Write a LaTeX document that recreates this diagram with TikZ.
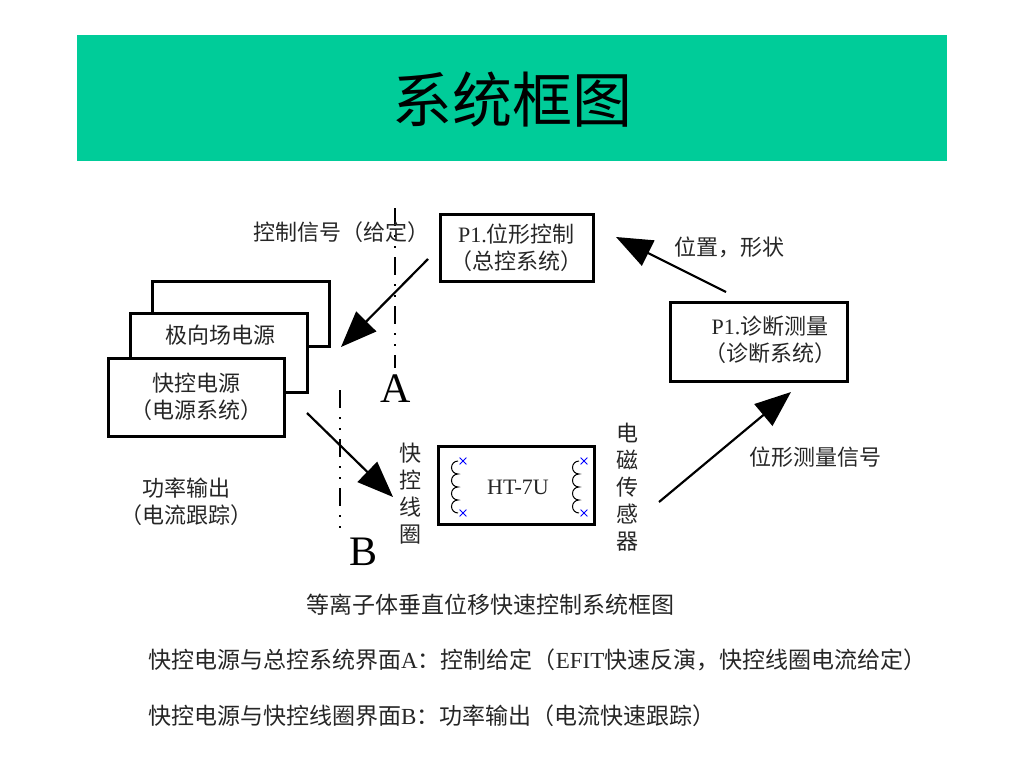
\documentclass[tikz,border=0pt]{standalone}
\usepackage{fontspec}
\setmainfont{Noto Sans CJK SC}
\newfontfamily\lat{Liberation Serif}
\usetikzlibrary{arrows.meta,shapes.misc}
\definecolor{headgreen}{RGB}{0,204,153}
\begin{document}
\begin{tikzpicture}[x=1pt,y=-1pt,
  box/.style={draw,line width=3pt,fill=white,inner sep=0pt},
  arr/.style={line width=2.2pt,-{Triangle[length=36pt,width=28pt]}},
  cut/.style={line width=2pt,dash pattern=on 18pt off 9pt on 2pt off 9pt on 2pt off 9pt},
  xm/.style={cross out,draw=blue,line width=0.8pt,minimum size=6pt,inner sep=0pt},
  txt/.style={font=\fontsize{22}{27}\selectfont,align=center,inner sep=0pt,text=black!85}]
  \useasboundingbox (0,0) rectangle (1024,768);
  % title bar
  \fill[headgreen] (77,35) rectangle (947,161);
  \node[font=\fontsize{60}{60}\selectfont] (title) at (512,100) {系统框图};
  % power supplies
  \node[box,minimum width=177pt,minimum height=65pt] (back) at (240.5,313.5) {};
  \node[box,minimum width=177pt,minimum height=79pt] (pf) at (218.5,352.5) {};
  \node[txt] (pftxt) at (220,335) {极向场电源};
  \node[box,txt,minimum width=176pt,minimum height=78pt] (fast) at (196,397) {快控电源\\（电源系统）};
  % control and diagnostics
  \node[box,txt,minimum width=153pt,minimum height=67pt] (ctrl) at (516.5,247.5) {{\lat P1.}位形控制\\（总控系统）};
  \node[box,minimum width=177pt,minimum height=79pt] (diag) at (758.5,341.5) {};
  \node[txt] (diagtxt) at (770,340) {{\lat P1.}诊断测量\\（诊断系统）};
  % tokamak
  \node[box,minimum width=156pt,minimum height=78pt] (ht) at (516,485) {};
  \node[txt,font=\lat\fontsize{22}{22}\selectfont] (httxt) at (518,487) {HT-7U};
  \foreach \cx in {458,579} {
    \draw[line width=1pt] (\cx,461) arc(270:90:6.5) arc(270:90:6.5) arc(270:90:6.5) arc(270:90:6.5);
    \node[xm] (xt\cx) at (\cx+5,461) {};
    \node[xm] (xb\cx) at (\cx+5,513) {};
  }
  \node[txt] (coil) at (410,494) {快\\控\\线\\圈};
  \node[txt] (sens) at (627,487) {电\\磁\\传\\感\\器};
  % interfaces A and B
  \coordinate (a1) at (395,208); \coordinate (a2) at (395,368);
  \draw[cut] (a1) -- (a2);
  \node[font=\lat\fontsize{42}{42}\selectfont,inner sep=0pt] (A) at (396,389) {A};
  \coordinate (b1) at (340,390); \coordinate (b2) at (340,533);
  \draw[cut] (b1) -- (b2);
  \node[font=\lat\fontsize{42}{42}\selectfont,inner sep=0pt] (B) at (364,552) {B};
  % signal arrows
  \coordinate (s1) at (428,259); \coordinate (e1) at (341,347);
  \draw[arr] (s1) -- (e1);
  \coordinate (s2) at (307,413); \coordinate (e2) at (393,497);
  \draw[arr] (s2) -- (e2);
  \coordinate (s3) at (659,502); \coordinate (e3) at (791,392);
  \draw[arr] (s3) -- (e3);
  \coordinate (s4) at (726,292); \coordinate (e4) at (616,237);
  \draw[arr] (s4) -- (e4);
  % labels
  \node[txt] (sig) at (341,232) {控制信号（给定）};
  \node[txt] (pos) at (729,247) {位置，形状};
  \node[txt] (meas) at (815,457) {位形测量信号};
  \node[txt] (pow) at (186,502) {功率输出\\（电流跟踪）};
  \node[txt,font=\fontsize{23}{23}\selectfont] (cap) at (490,605) {等离子体垂直位移快速控制系统框图};
  \node[txt,font=\fontsize{23}{23}\selectfont,anchor=west] (lineA) at (148,660) {快控电源与总控系统界面{\lat A}：控制给定（{\lat EFIT}快速反演，快控线圈电流给定）};
  \node[txt,font=\fontsize{23}{23}\selectfont,anchor=west] (lineB) at (148,716) {快控电源与快控线圈界面{\lat B}：功率输出（电流快速跟踪）};
\end{tikzpicture}
\end{document}
